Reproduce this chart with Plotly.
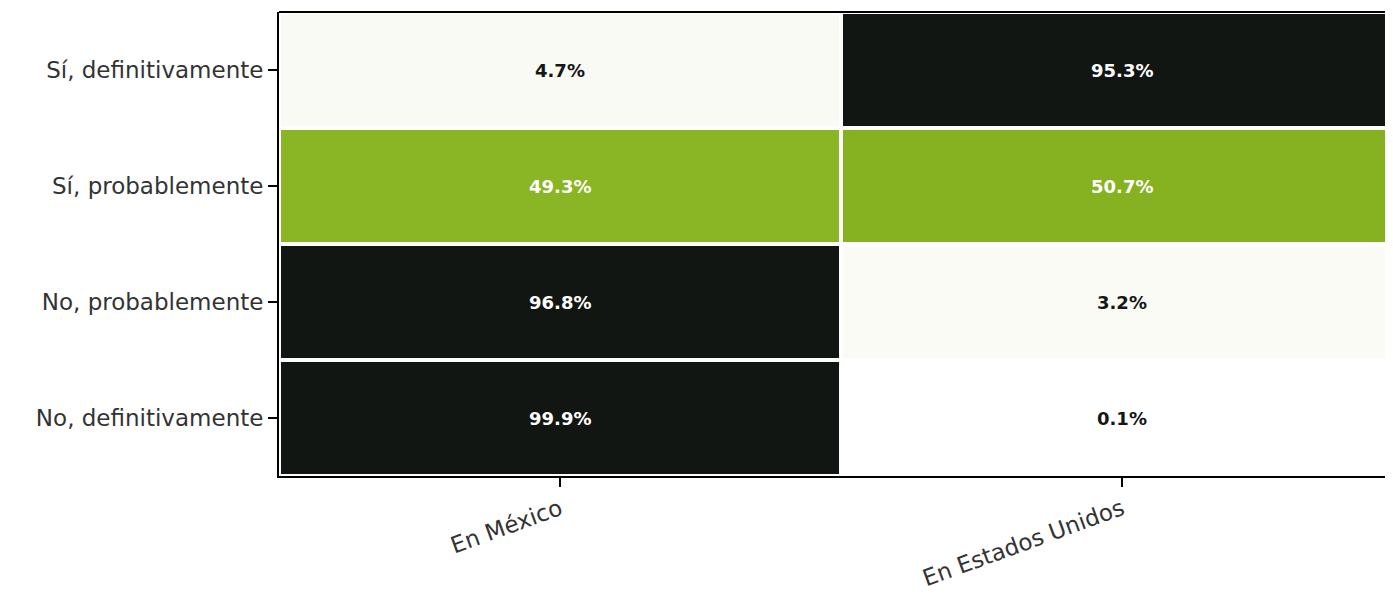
import plotly.graph_objects as go

columns = ["En México", "En Estados Unidos"]
rows = ["Sí, definitivamente", "Sí, probablemente", "No, probablemente", "No, definitivamente"]
mexico = [4.7, 49.3, 96.8, 99.9]
usa = [95.3, 50.7, 3.2, 0.1]

z = [[m, u] for m, u in zip(mexico, usa)]

colorscale = [[0.0, "#FFFFFF"], [0.03, "#FBFBF6"], [0.05, "#FAFAF5"], [0.5, "#88B421"],
              [0.95, "#121612"], [1.0, "#121612"]]

fig = go.Figure(go.Heatmap(
    z=z, x=columns, y=rows, colorscale=colorscale, zmin=0, zmax=100,
    showscale=False, xgap=4, ygap=4, hoverinfo="skip",
))

annotations = []
for i, r in enumerate(rows):
    for j, c in enumerate(columns):
        v = z[i][j]
        col = "#FFFFFF" if v > 30 else "#161616"
        annotations.append(dict(x=c, y=r, text=f"{v:.1f}%", showarrow=False,
                                font=dict(family="DejaVu Sans", size=18, color=col, weight="bold")))

fig.update_layout(
    width=1385, height=593,
    margin=dict(l=271, r=0, t=4, b=125, autoexpand=False),
    plot_bgcolor="white", paper_bgcolor="white",
    font=dict(family="DejaVu Sans", size=23, color="#333333"),
    annotations=annotations,
    shapes=[dict(type="line", xref="paper", yref="paper", x0=0, x1=1, y0=1, y1=1,
                 line=dict(color="black", width=2))],
    xaxis=dict(range=[-0.5, 1.482], showline=True, linecolor="black", linewidth=2,
               ticks="outside", ticklen=9, tickwidth=2, tickcolor="black", tickangle=-20,
               showgrid=False, zeroline=False, automargin=False),
    yaxis=dict(autorange="reversed", showline=True, linecolor="black", linewidth=2,
               ticks="outside", ticklen=9, tickwidth=2, tickcolor="black",
               showgrid=False, zeroline=False, automargin=False),
)

fig.write_html("out.html")
